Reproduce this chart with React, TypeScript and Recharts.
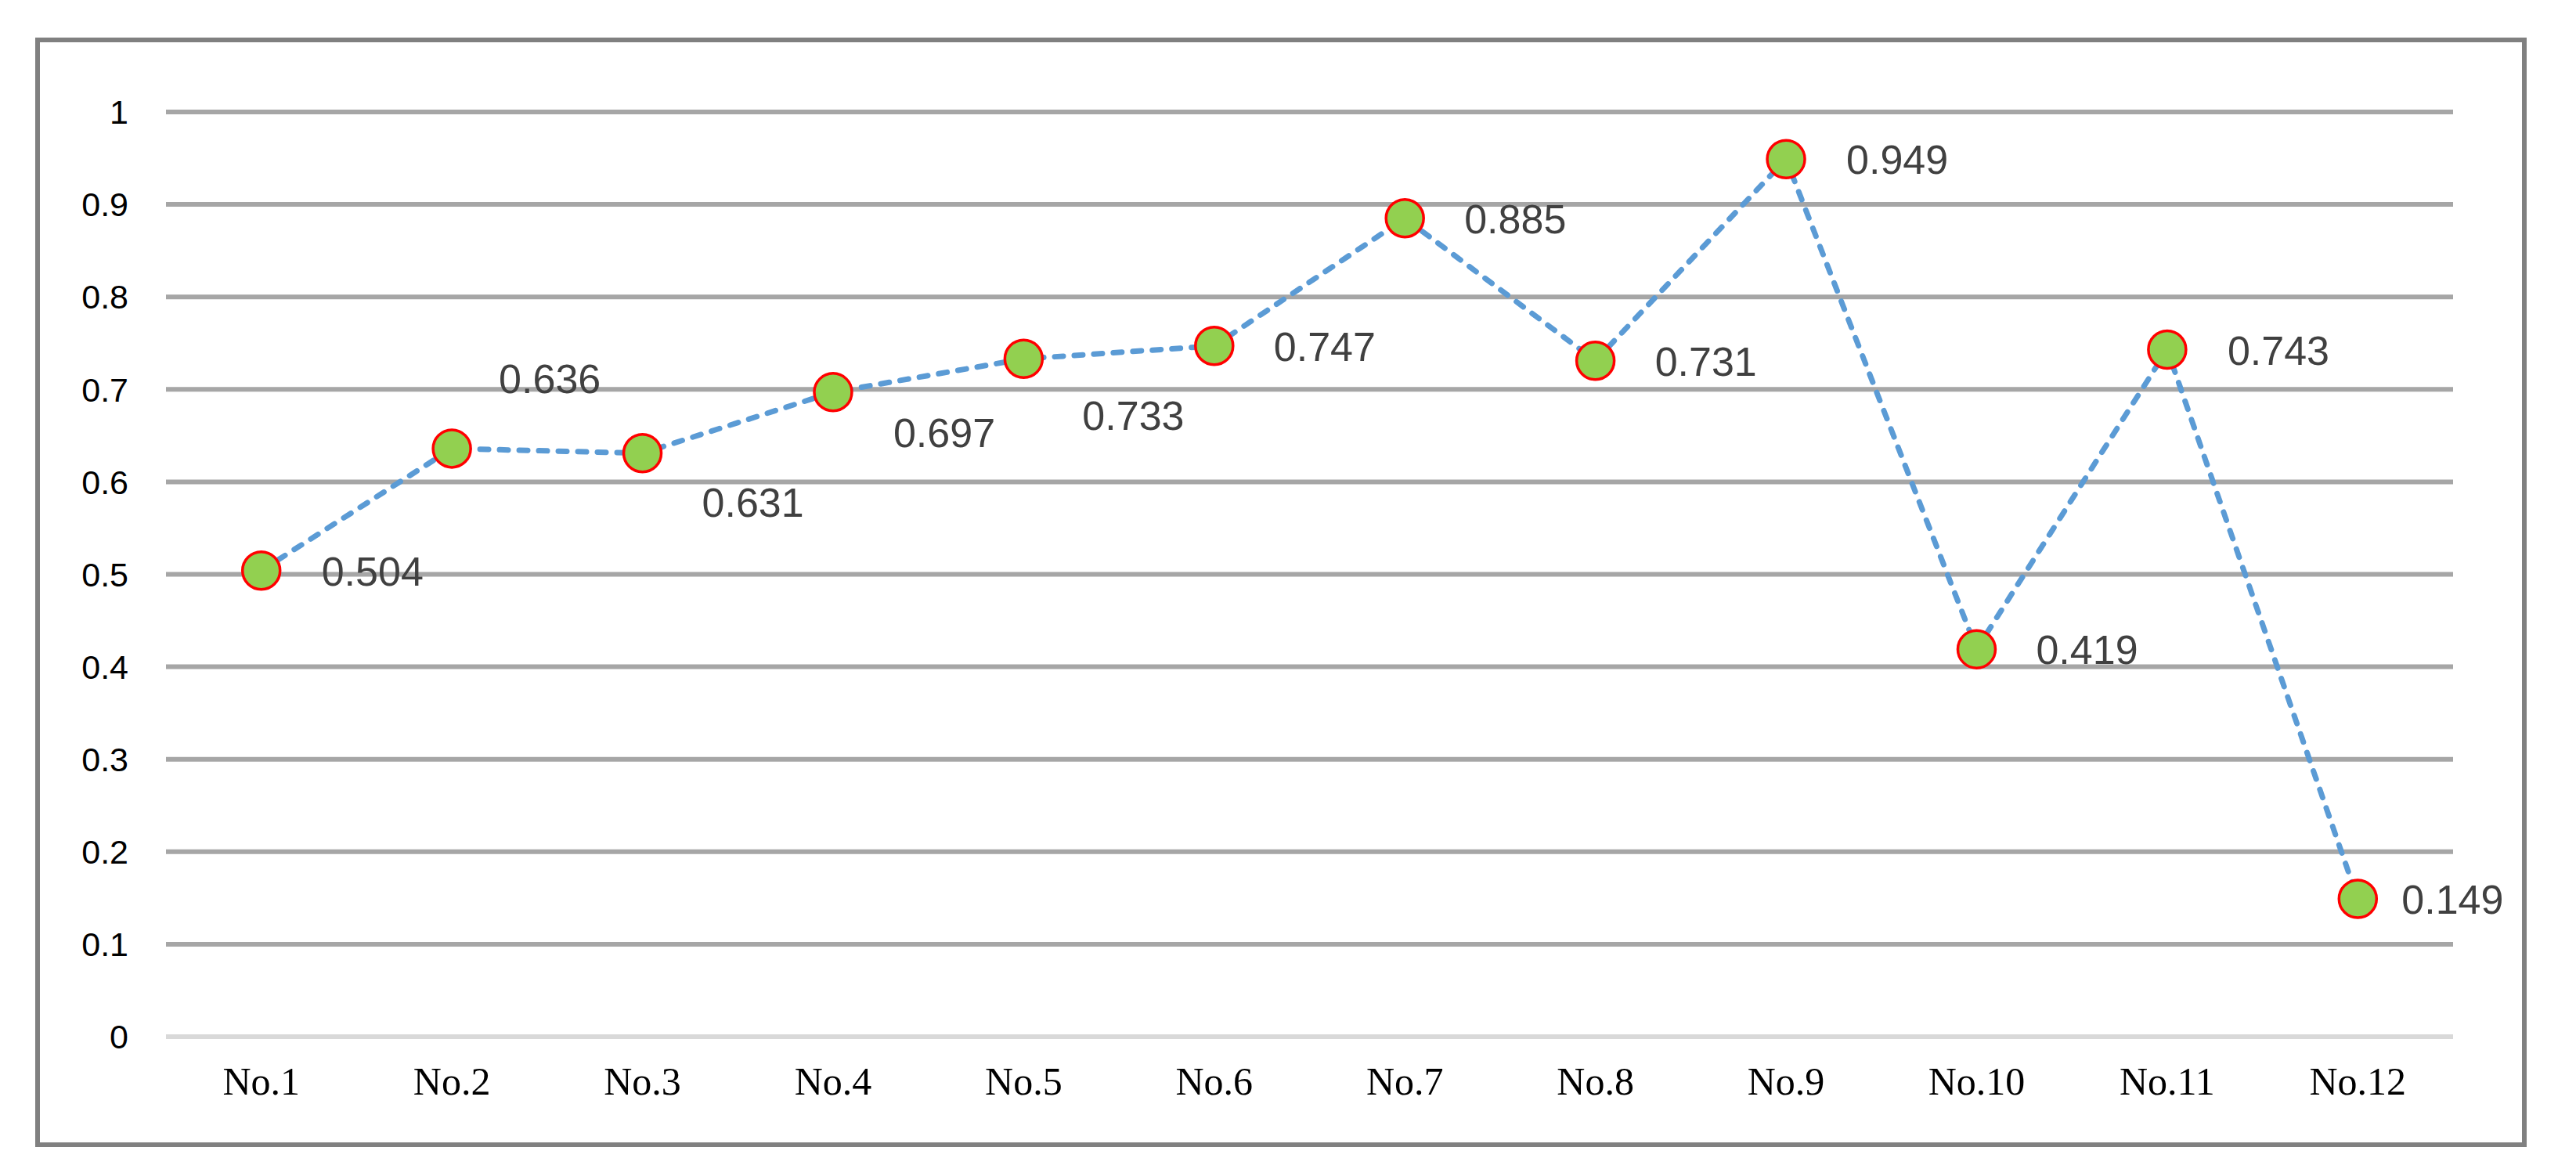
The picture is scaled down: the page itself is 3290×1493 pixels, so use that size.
import React from 'react';
import {CartesianGrid, LabelList, Line, LineChart, XAxis, YAxis} from 'recharts';

// values, one per sample
const categories = ['No.1', 'No.2', 'No.3', 'No.4', 'No.5', 'No.6', 'No.7', 'No.8', 'No.9', 'No.10', 'No.11', 'No.12'];
const values = [0.504, 0.636, 0.631, 0.697, 0.733, 0.747, 0.885, 0.731, 0.949, 0.419, 0.743, 0.149];
const yTicks = [0, 0.1, 0.2, 0.3, 0.4, 0.5, 0.6, 0.7, 0.8, 0.9, 1];
const gridTicks = [0.1, 0.2, 0.3, 0.4, 0.5, 0.6, 0.7, 0.8, 0.9, 1];

// where each data label sits relative to its marker (dx to text start, dy to text middle)
const labelOffsets = [
  [77, 0], [60, -90], [76, 62], [77, 51], [75, 72], [76, 0],
  [76, 0], [76, 0], [77, 0], [76, 0], [77, 0], [56, 0],
];

const data = categories.map((name, i) => ({name, value: values[i]}));

const renderDot = (props: any) => {
  const {cx, cy, index} = props;
  return <circle key={'dot-' + index} cx={cx} cy={cy} r={24} fill="#92D050" stroke="#FF0000" strokeWidth={3.5} />;
};

const renderLabel = (props: any) => {
  const x = props.x ?? props.viewBox?.x;
  const y = props.y ?? props.viewBox?.y;
  const [dx, dy] = labelOffsets[props.index] || [76, 0];
  return (
    <text
      x={x + dx}
      y={y + dy + 19}
      textAnchor="start"
      fontSize={52}
      fontFamily="'Liberation Sans', Arial, sans-serif"
      fill="#404040"
    >
      {props.value}
    </text>
  );
};

export default function App() {
  return (
    <div style={{position: 'absolute', left: 0, top: 0, width: 3290, height: 1493, background: '#fff'}}>
      <div
        style={{
          position: 'absolute',
          left: 45,
          top: 48,
          width: 3182,
          height: 1417,
          border: '6px solid #808080',
          boxSizing: 'border-box',
        }}
      />
      <div style={{position: 'absolute', left: 0, top: 0}}>
        <LineChart width={3290} height={1493} data={data} margin={{top: 143, right: 157, left: 0, bottom: 69}}>
          <CartesianGrid
            vertical={false}
            horizontalValues={gridTicks}
            stroke="#A6A6A6"
            strokeWidth={6}
          />
          <XAxis
            dataKey="name"
            height={100}
            padding={{left: 121.7, right: 121.7}}
            axisLine={{stroke: '#D9D9D9', strokeWidth: 6}}
            tickLine={false}
            tickSize={0}
            tickMargin={38}
            interval={0}
            tick={{fontSize: 50, fontFamily: "'Liberation Serif', 'Times New Roman', serif", fill: '#000'}}
          />
          <YAxis
            width={212}
            domain={[0, 1]}
            ticks={yTicks}
            axisLine={false}
            tickLine={false}
            tickSize={0}
            tickMargin={48}
            interval={0}
            tick={{fontSize: 43, fontFamily: "'Liberation Sans', Arial, sans-serif", fill: '#000'}}
          />
          <Line
            type="linear"
            dataKey="value"
            stroke="#5B9BD5"
            strokeWidth={7}
            strokeDasharray="11 14"
            strokeLinecap="round"
            dot={renderDot}
            activeDot={false}
            isAnimationActive={false}
          >
            <LabelList dataKey="value" content={renderLabel} />
          </Line>
        </LineChart>
      </div>
    </div>
  );
}
